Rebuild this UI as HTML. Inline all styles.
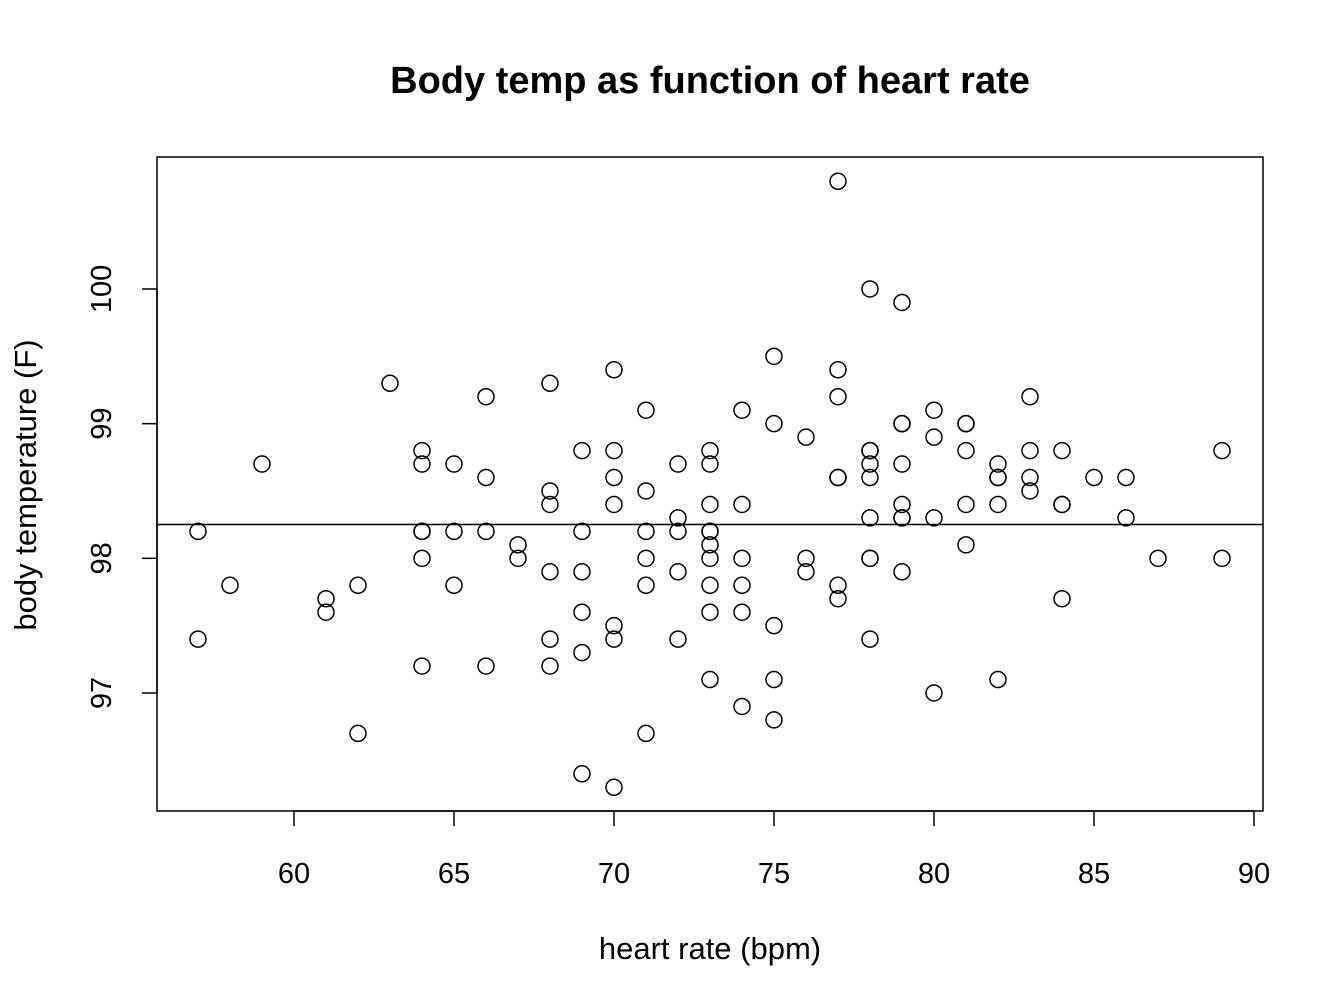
<!DOCTYPE html>
<html><head><meta charset="utf-8">
<style>
html,body{margin:0;padding:0;background:#fff;}
svg{display:block;font-family:"Liberation Sans",Arial,sans-serif;}
</style></head>
<body>
<svg id="chart" width="1344" height="1008" viewBox="0 0 1344 1008" xmlns="http://www.w3.org/2000/svg">
<text x="710" y="93" font-size="38" font-weight="bold" text-anchor="middle">Body temp as function of heart rate</text>
<rect x="157" y="157" width="1106" height="654" fill="none" stroke="#000" stroke-width="1.5"/>
<g id="xaxis"></g>
<g id="yaxis"></g>
<g id="points"></g>
<text x="710" y="959" font-size="31" text-anchor="middle">heart rate (bpm)</text>
<text transform="translate(36,485) rotate(-90)" font-size="31" text-anchor="middle">body temperature (F)</text>
</svg>
<script>
const heartRates = [57,57,58,59,61,61,62,62,63,64,64,64,64,64,64,65,65,65,66,66,66,66,67,67,68,68,68,68,68,68,69,69,69,69,69,69,70,70,70,70,70,70,70,71,71,71,71,71,71,72,72,72,72,72,73,73,73,73,73,73,73,73,73,73,74,74,74,74,74,74,75,75,75,75,75,76,76,76,77,77,77,77,77,77,77,78,78,78,78,78,78,78,78,78,79,79,79,79,79,79,79,79,80,80,80,80,81,81,81,81,81,82,82,82,82,82,83,83,83,83,84,84,84,84,85,86,86,87,89,89];
const temps = [98.2,97.4,97.8,98.7,97.7,97.6,97.8,96.7,99.3,98.8,98.7,98.2,98.2,98.0,97.2,98.7,98.2,97.8,99.2,98.6,98.2,97.2,98.1,98.0,99.3,98.5,98.4,97.9,97.4,97.2,98.8,98.2,97.9,97.6,97.3,96.4,99.4,98.8,98.6,98.4,97.5,97.4,96.3,99.1,98.5,98.2,98.0,97.8,96.7,98.7,98.3,98.2,97.9,97.4,98.8,98.7,98.4,98.2,98.2,98.1,98.0,97.8,97.6,97.1,99.1,98.4,98.0,97.8,97.6,96.9,99.5,99.0,97.5,97.1,96.8,98.9,98.0,97.9,100.8,99.4,99.2,98.6,98.6,97.8,97.7,100.0,98.8,98.8,98.7,98.6,98.3,98.0,98.0,97.4,99.9,99.0,99.0,98.7,98.4,98.3,98.3,97.9,99.1,98.9,98.3,97.0,99.0,99.0,98.8,98.4,98.1,98.7,98.6,98.6,98.4,97.1,99.2,98.8,98.6,98.5,98.8,98.4,98.4,97.7,98.6,98.6,98.3,98.0,98.8,98.0];
const xTicks = [60,65,70,75,80,85,90];
const yTicks = [97,98,99,100];

const NS="http://www.w3.org/2000/svg";
const xs = v => 294 + (v-60)*32;
const ys = v => 693 - (v-97)*134.67;
function mk(tag, attrs, parent){const e=document.createElementNS(NS,tag);for(const k in attrs)e.setAttribute(k,attrs[k]);parent.appendChild(e);return e;}
const xg=document.getElementById('xaxis'), yg=document.getElementById('yaxis'), pg=document.getElementById('points');
mk('line',{x1:xs(60),x2:xs(90),y1:811,y2:811,stroke:'#000','stroke-width':1.5},xg);
xTicks.forEach(t=>{
  mk('line',{x1:xs(t),x2:xs(t),y1:811,y2:826,stroke:'#000','stroke-width':1.5},xg);
  const tx=mk('text',{x:xs(t),y:883,'font-size':29,'text-anchor':'middle'},xg);
  
  
  tx.textContent=t;
});
mk('line',{x1:157,x2:157,y1:ys(97),y2:ys(100),stroke:'#000','stroke-width':1.5},yg);
yTicks.forEach(t=>{
  mk('line',{x1:142,x2:157,y1:ys(t),y2:ys(t),stroke:'#000','stroke-width':1.5},yg);
  const tx=mk('text',{transform:`translate(111,${ys(t)}) rotate(-90)`,'font-size':29,'text-anchor':'middle'},yg);
  
  
  tx.textContent=t;
});
heartRates.forEach((h,i)=>{
  const c=mk('circle',{cx:xs(h),cy:ys(temps[i]),r:8,fill:'none',stroke:'#000','stroke-width':1.5},pg);
  
  
});
const mean=temps.reduce((a,b)=>a+b,0)/temps.length;
const ml=mk('line',{x1:157,x2:1263,y1:ys(mean),y2:ys(mean),stroke:'#000','stroke-width':1.5},pg);


</script>
</body></html>
